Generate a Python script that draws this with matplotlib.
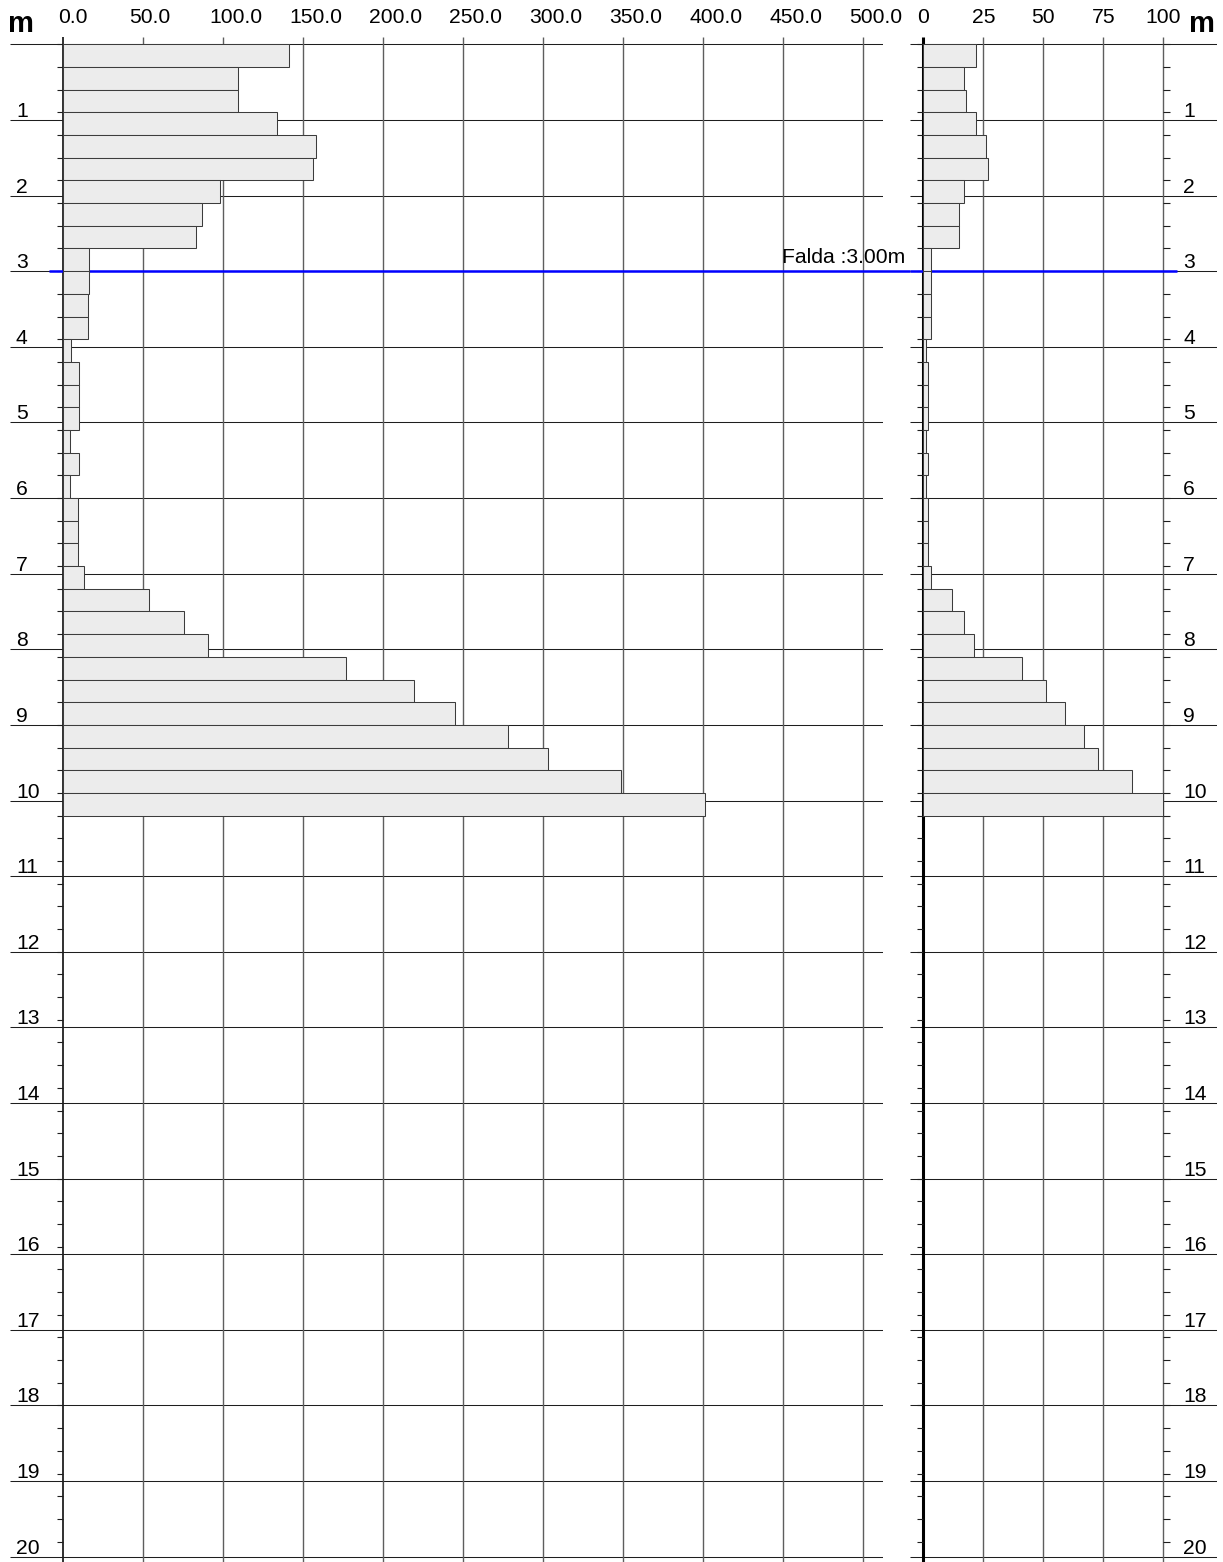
import matplotlib
matplotlib.use("Agg")
import matplotlib.pyplot as plt
from matplotlib.transforms import offset_copy

plt.rcParams['font.family'] = ['Liberation Sans', 'DejaVu Sans']

# Penetrometer log: top of each 0.30 m interval (m)
depth_top = [0.0, 0.3, 0.6, 0.9, 1.2, 1.5, 1.8, 2.1, 2.4, 2.7,
             3.0, 3.3, 3.6, 3.9, 4.2, 4.5, 4.8, 5.1, 5.4, 5.7,
             6.0, 6.3, 6.6, 6.9, 7.2, 7.5, 7.8, 8.1, 8.4, 8.7,
             9.0, 9.3, 9.6, 9.9]
step = 0.3

# Dynamic point resistance per interval (left panel)
resistance = [141.2, 109.0, 109.4, 133.8, 158.1, 156.3, 98.1, 86.7, 82.7, 16.3,
              16.3, 15.6, 15.6, 4.8, 10.0, 10.0, 10.0, 4.4, 9.6, 4.4,
              9.0, 9.0, 9.0, 13.1, 53.6, 75.6, 90.2, 176.5, 219.4, 245.0,
              278.1, 303.1, 348.8, 401.3]

# Blow count per interval (right panel)
blows = [22, 17, 18, 22, 26, 27, 17, 15, 15, 3,
         3, 3, 3, 1, 2, 2, 2, 1, 2, 1,
         2, 2, 2, 3, 12, 17, 21, 41, 51, 59,
         67, 73, 87, 100]

left_ticks = [0, 50, 100, 150, 200, 250, 300, 350, 400, 450, 500]
left_ticklabels = ["0.0", "50.0", "100.0", "150.0", "200.0", "250.0",
                   "300.0", "350.0", "400.0", "450.0", "500.0"]
right_ticks = [0, 25, 50, 75, 100]
right_ticklabels = ["0", "25", "50", "75", "100"]
depth_labels = list(range(1, 21))
water_table = 3.00
water_label = "Falda :3.00m"

W, H = 1223, 1562
DPI = 100
fig = plt.figure(figsize=(W / DPI, H / DPI), dpi=DPI)
fig.patch.set_facecolor("white")

PX_PER_M = 75.62
Y_ZERO = 44.3          # pixel row of depth 0
TOP_PX = 36.7
ytop = (TOP_PX - Y_ZERO) / PX_PER_M
ybot = (H - Y_ZERO) / PX_PER_M
n_minor = int(round(19.8 / step)) + 1
minor = [round(k * step, 2) for k in range(n_minor)]


def make_axes(x0, x1, zero_px, px_per_unit):
    ax = fig.add_axes([x0 / W, 0, (x1 - x0) / W, (H - TOP_PX) / H])
    ax.set_xlim((x0 - zero_px) / px_per_unit, (x1 - zero_px) / px_per_unit)
    ax.set_ylim(ybot, ytop)
    ax.axis("off")
    ax.patch.set_alpha(0)
    return ax


GRID_V = dict(color="#5e5e5e", lw=1.0)
GRID_H = dict(color="#1e1e1e", lw=0.75)
BAR = dict(color="#ececec", edgecolor="#3c3c3c", linewidth=0.75)
FS = 15.2

# ---------------- left panel: resistance ----------------
axL = make_axes(10, 883.3, 63.3, 1.6)
xl0, xl1 = axL.get_xlim()
axL.hlines(range(0, 21), xl0, xl1, zorder=1, **GRID_H)
axL.vlines(left_ticks[1:], ytop, ybot, zorder=1, **GRID_V)
axL.vlines(0, ytop, ybot, color="#202020", lw=1.3, zorder=1.5)
axL.hlines(minor, -4.2, 0, color="#1e1e1e", lw=0.8, zorder=1.5)
# water table
axL.plot([(49.3 - 63.3) / 1.6, (910 - 63.3) / 1.6], [water_table, water_table],
         color="#0000ff", lw=1.8, zorder=2, clip_on=False, solid_capstyle="butt")
axL.barh(depth_top, resistance, height=step, left=0, align="edge", zorder=3, **BAR)
axL.text(450 - 1.1, water_table, water_label, fontsize=FS, ha="left", va="baseline",
         transform=offset_copy(axL.transData, fig=fig, x=0, y=8.4, units="dots"),
         zorder=4)

for v, lab in zip(left_ticks, left_ticklabels):
    dx = -5.5 if v == 0 else -14.0
    axL.text(v, 0, lab, fontsize=FS, ha="left", va="baseline", clip_on=False,
             transform=offset_copy(axL.transData, fig=fig, x=dx, y=Y_ZERO - 22.7,
                                   units="dots"))
for d in depth_labels:
    axL.text(0, d, str(d), fontsize=FS, ha="left", va="baseline",
             transform=offset_copy(axL.transData, fig=fig, x=16 - 63.3, y=3,
                                   units="dots"))

# ---------------- right panel: blow count ----------------
axR = make_axes(910, 1216.7, 923.3, 2.4)
xr0, xr1 = axR.get_xlim()
axR.hlines(range(0, 21), xr0, xr1, zorder=1, **GRID_H)
axR.vlines(right_ticks[1:], ytop, ybot, zorder=1, **GRID_V)
axR.vlines(0, ytop, ybot, color="#000000", lw=2.2, zorder=1.5)
axR.hlines(minor, -2.8, 0, color="#1e1e1e", lw=0.8, zorder=1.5)
axR.hlines(minor, 100, 102.8, color="#1e1e1e", lw=0.8, zorder=1.5)
axR.plot([xr0, (1176.7 - 923.3) / 2.4], [water_table, water_table],
         color="#0000ff", lw=1.8, zorder=2, solid_capstyle="butt")
axR.barh(depth_top, blows, height=step, left=0, align="edge", zorder=3, **BAR)

for v, lab in zip(right_ticks, right_ticklabels):
    axR.text(v, 0, lab, fontsize=FS, ha="center", va="baseline", clip_on=False,
             transform=offset_copy(axR.transData, fig=fig, x=0, y=Y_ZERO - 22.7,
                                   units="dots"))
for d in depth_labels:
    axR.text(0, d, str(d), fontsize=FS, ha="left", va="baseline",
             transform=offset_copy(axR.transData, fig=fig, x=1183 - 923.3, y=3,
                                   units="dots"))

# unit labels
fig.text(8 / W, 1 - 32.3 / H, "m", fontsize=21, fontweight="bold",
         ha="left", va="baseline")
fig.text(1189 / W, 1 - 32.3 / H, "m", fontsize=21, fontweight="bold",
         ha="left", va="baseline")

fig.savefig("out.png", dpi=DPI)
